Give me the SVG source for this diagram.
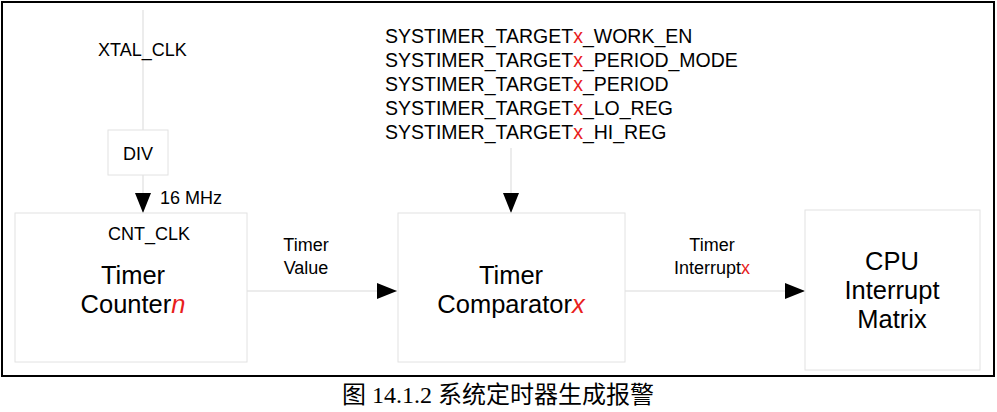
<svg xmlns="http://www.w3.org/2000/svg" width="997" height="412" viewBox="0 0 997 412">
<style>
.box{fill:#fff;stroke:#e2e2e2;stroke-width:1}
.ln{stroke:#d9d9d9;stroke-width:1;fill:none}
.t{font-family:"Liberation Sans",Arial,sans-serif;fill:#000}
.s{font-size:19.5px}
.m{font-size:18px}
.b{font-size:25.5px;text-anchor:middle}
.r{fill:#e8201c}
</style>
<defs><marker id="a" markerWidth="20" markerHeight="16" refX="20" refY="8" orient="auto" markerUnits="userSpaceOnUse"><path d="M0,0 L20,8 L0,16 Z" fill="#000"/></marker></defs>
<rect x="0" y="0" width="997" height="412" fill="#fff"/>
<rect x="2" y="2" width="992" height="374" fill="none" stroke="#000" stroke-width="2"/>
<g id="connectors">
<line class="ln" x1="143" y1="10" x2="143" y2="130"/>
<line class="ln" x1="143" y1="175" x2="143" y2="213" marker-end="url(#a)"/>
<line class="ln" x1="511" y1="148" x2="511" y2="213" marker-end="url(#a)"/>
<line class="ln" x1="247" y1="291" x2="397" y2="291" marker-end="url(#a)"/>
<line class="ln" x1="625" y1="291" x2="805" y2="291" marker-end="url(#a)"/>
<text class="t m" x="98" y="56">XTAL_CLK</text>
<text class="t m" x="160" y="204">16 MHz</text>
<text class="t m" x="306" y="251" text-anchor="middle">Timer</text>
<text class="t m" x="306" y="274" text-anchor="middle">Value</text>
<text class="t m" x="712" y="251" text-anchor="middle">Timer</text>
<text class="t m" x="712" y="274" text-anchor="middle">Interrupt<tspan class="r">x</tspan></text>
<g class="t s">
<text x="385" y="43">SYSTIMER_TARGET<tspan class="r">x</tspan>_WORK_EN</text>
<text x="385" y="67">SYSTIMER_TARGET<tspan class="r">x</tspan>_PERIOD_MODE</text>
<text x="385" y="91">SYSTIMER_TARGET<tspan class="r">x</tspan>_PERIOD</text>
<text x="385" y="115">SYSTIMER_TARGET<tspan class="r">x</tspan>_LO_REG</text>
<text x="385" y="139">SYSTIMER_TARGET<tspan class="r">x</tspan>_HI_REG</text>
</g>
</g>
<g id="div"><rect class="box" x="108" y="130" width="60" height="45"/><text class="t m" x="138" y="160" text-anchor="middle">DIV</text></g>
<g id="counter"><rect class="box" x="15" y="213" width="232" height="149"/>
<text class="t m" x="149" y="240" text-anchor="middle">CNT_CLK</text>
<text class="t b" x="133" y="284">Timer</text>
<text class="t b" x="133" y="313">Counter<tspan class="r" font-style="italic">n</tspan></text></g>
<g id="comparator"><rect class="box" x="398" y="213" width="227" height="149"/>
<text class="t b" x="511" y="284">Timer</text>
<text class="t b" x="511" y="313">Comparator<tspan class="r" font-style="italic">x</tspan></text></g>
<g id="cpu"><rect class="box" x="805" y="210" width="175" height="160"/>
<text class="t b" x="892" y="270">CPU</text>
<text class="t b" x="892" y="299">Interrupt</text>
<text class="t b" x="892" y="328">Matrix</text></g>
<text x="498" y="403" text-anchor="middle" font-size="24" font-family="'Liberation Serif','Noto Sans CJK SC',serif">图 14.1.2 系统定时器生成报警</text>
</svg>
